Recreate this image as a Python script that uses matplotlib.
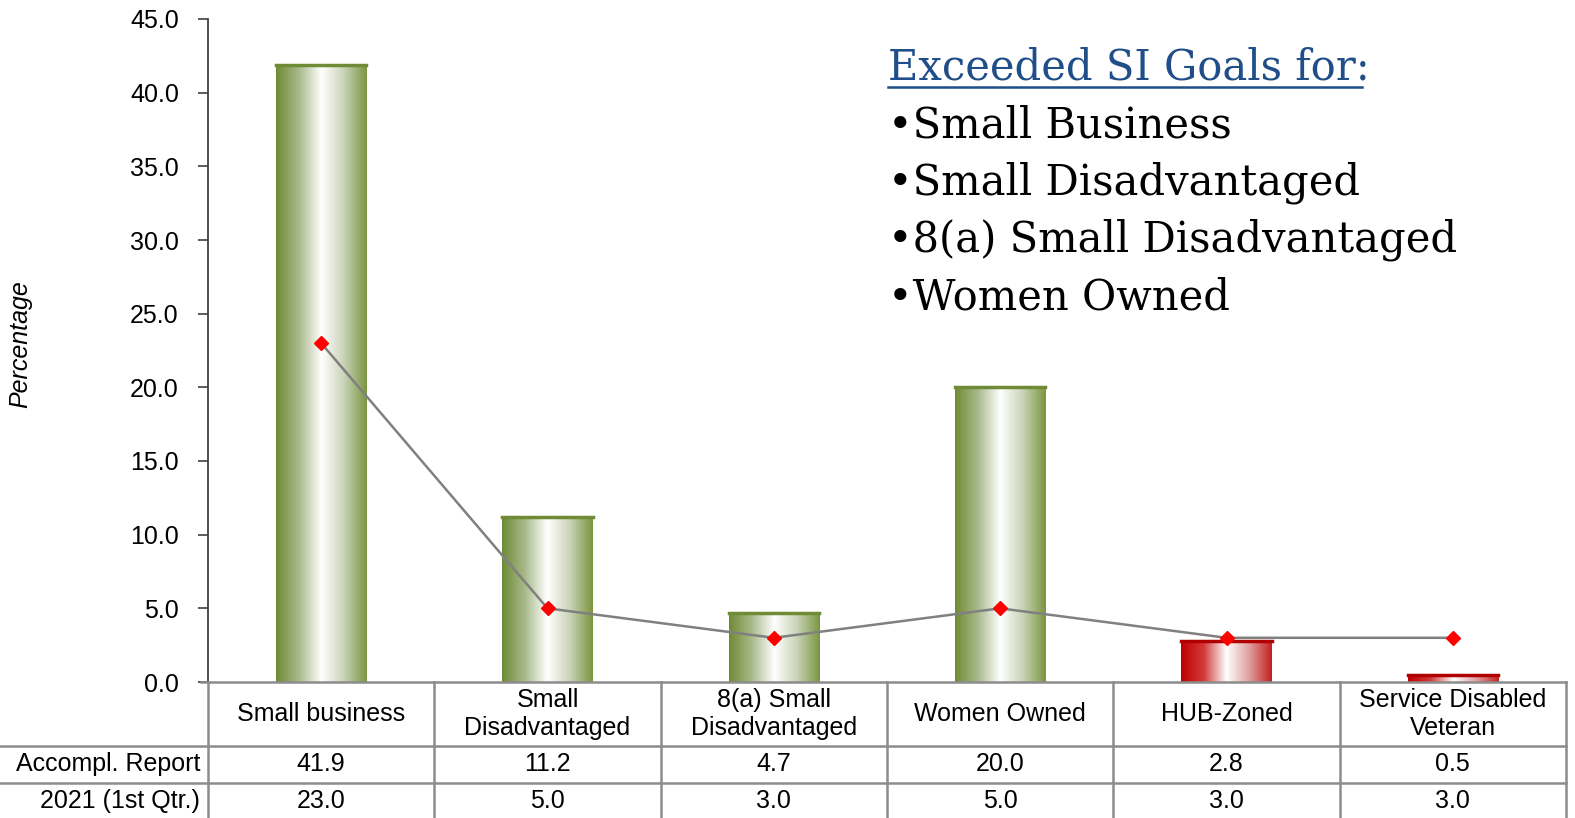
import numpy as np
import matplotlib
matplotlib.use('Agg')
import matplotlib.pyplot as plt
import matplotlib.transforms as mtransforms
from matplotlib.colors import LinearSegmentedColormap
from matplotlib.lines import Line2D

# DONNEES
categories = ['Small business', 'Small\nDisadvantaged', '8(a) Small\nDisadvantaged',
              'Women Owned', 'HUB-Zoned', 'Service Disabled\nVeteran']
accompl = [41.9, 11.2, 4.7, 20.0, 2.8, 0.5]
goals = [23.0, 5.0, 3.0, 5.0, 3.0, 3.0]
row_labels = ['Accompl. Report', '2021 (1st Qtr.)']
bar_kind = ['green', 'green', 'green', 'green', 'red', 'red']
goals_met = ['Small Business', 'Small Disadvantaged', '8(a) Small Disadvantaged', 'Women Owned']

plt.rcParams['font.family'] = ['Liberation Sans', 'DejaVu Sans']

W, H = 1575, 818
fig = plt.figure(figsize=(W/100, H/100), dpi=100)
# axes : x 208 -> 1566 px, y 19 -> 682 px
ax = fig.add_axes([208/W, 1 - 682/H, 1358/W, 663/H])

cmaps = {
    'green': LinearSegmentedColormap.from_list('g', ['#6f8b35', '#a8b98a', '#ffffff', '#c9d3b6', '#7a9540']),
    'red': LinearSegmentedColormap.from_list('r', ['#c00000', '#d23a3a', '#ffffff', '#e0a0a0', '#c42020']),
}
edges = {'green': '#6f8b35', 'red': '#b00000'}

grad = np.linspace(0, 1, 256).reshape(1, -1)
w = 0.4
x = np.arange(len(categories))
for i, v in enumerate(accompl):
    k = bar_kind[i]
    ax.imshow(grad, extent=[i - w/2, i + w/2, 0, v], aspect='auto', cmap=cmaps[k],
              interpolation='bilinear', zorder=2)
    ax.plot([i - w/2, i + w/2], [v, v], color=edges[k], lw=2.5, zorder=3)

ax.plot(x, goals, color='#808080', lw=1.8, marker='D', markersize=7,
        markerfacecolor='#ff0000', markeredgecolor='#ff0000', zorder=4)

ax.set_xlim(-0.5, 5.5)
ax.set_ylim(0, 45)
ax.set_yticks(np.arange(0, 46, 5))
ax.set_yticklabels([f'{t:.1f}' for t in np.arange(0, 46, 5)], fontsize=18)
ax.tick_params(axis='y', direction='out', length=7, color='#404040', width=1.2, pad=14)
ax.set_xticks([])
for s in ['top', 'right']:
    ax.spines[s].set_visible(False)
ax.spines['left'].set_color('#404040')
ax.spines['left'].set_linewidth(1.3)
ax.spines['bottom'].set_color('#8c8c8c')
ax.spines['bottom'].set_linewidth(1.8)
ax.spines['bottom'].set_bounds(-0.53, 5.5)
ax.set_ylabel('Percentage', fontsize=18, style='italic')
ax.yaxis.set_label_coords(-176/1358, 0.51)

# tableau sous le graphique
tr = mtransforms.blended_transform_factory(ax.transData, ax.transAxes)
tr_fig = mtransforms.blended_transform_factory(fig.transFigure, ax.transAxes)
y_row1 = -63.5/663
y_row2 = -100.5/663
y_bot = -140/663
for b in np.arange(-0.5, 6.0, 1.0):
    fig.add_artist(Line2D([b, b], [0, y_bot], transform=tr, color='#8c8c8c', lw=1.8, clip_on=False))
for yy in [y_row1, y_row2]:
    fig.add_artist(Line2D([0, 1566/W], [yy, yy], transform=tr_fig, color='#8c8c8c', lw=1.8, clip_on=False))

for i, c in enumerate(categories):
    ax.text(i, -32/663, c, transform=tr, ha='center', va='center', fontsize=18,
            linespacing=1.25, clip_on=False)
    ax.text(i, -82/663, f'{accompl[i]:.1f}', transform=tr, ha='center', va='center', fontsize=18, clip_on=False)
    ax.text(i, -119/663, f'{goals[i]:.1f}', transform=tr, ha='center', va='center', fontsize=18, clip_on=False)
ax.text(-0.535, -82/663, row_labels[0], transform=tr, ha='right', va='center', fontsize=18, clip_on=False)
ax.text(-0.535, -119/663, row_labels[1], transform=tr, ha='right', va='center', fontsize=18, clip_on=False)

# encadre texte
fig.text(888/W, 1 - 68/H, 'Exceeded SI Goals for:', fontsize=30, family='DejaVu Serif',
         color='#1f4e89', va='center', ha='left')
fig.add_artist(Line2D([888/W, 1362/W], [1 - 87/H, 1 - 87/H], color='#1f4e89', lw=1.8))
for j, g in enumerate(goals_met):
    fig.text(888/W, 1 - (125 + j*57.5)/H, '\u2022' + g, fontsize=30, family='DejaVu Serif',
             color='black', va='center', ha='left')

fig.savefig('out.png', dpi=100)
